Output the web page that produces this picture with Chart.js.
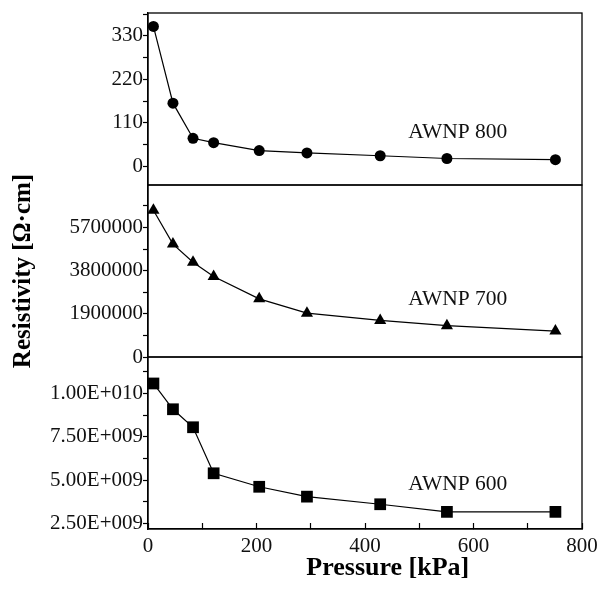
<!DOCTYPE html>
<html>
<head>
<meta charset="utf-8">
<script src="https://cdn.jsdelivr.net/npm/chart.js@4.4.1/dist/chart.umd.min.js"></script>
<style>
  html, body { margin: 0; padding: 0; background: #fff; }
  #wrap { width: 597px; height: 589px; }
</style>
</head>
<body>
<div id="wrap"><canvas id="resistivity"></canvas></div>
<script>
// pressure in kPa, resistivity in ohm*cm, one list per sample
var pressure = [10, 46, 83, 121, 205, 293, 428, 551, 751];
var awnp800 = [354, 160, 71, 60, 40, 34, 27, 20, 17];
var awnp700 = [6460000, 4970000, 4170000, 3540000, 2560000, 1930000, 1610000, 1380000, 1140000];
var awnp600 = [1.058e10, 9.09e9, 8.05e9, 5.39e9, 4.61e9, 4.04e9, 3.6e9, 3.16e9, 3.16e9];
var sampleNames = ['AWNP 800', 'AWNP 700', 'AWNP 600'];

var serif = '"Liberation Serif", "Times New Roman", serif';

function pairs(ys) {
    return pressure.map(function (p, i) { return { x: p, y: ys[i] }; });
}

function sciLabel(v) {
    var e = Math.floor(Math.log10(v) + 1e-9);
    var m = v / Math.pow(10, e);
    return m.toFixed(2) + 'E+' + String(e).padStart(3, '0');
}

// label only every second tick, the others are minor
function everyOther(step, fmt) {
    return function (value) {
        var k = value / step;
        if (Math.abs(k - Math.round(k)) > 1e-6) return '';
        return fmt ? fmt(value) : String(Math.round(value));
    };
}

// stepSize gets rescaled by chart.js for big numbers, so build the ticks here
function yAxis(min, max, step, fmt, extra) {
    var half = step / 2;
    var ax = {
        type: 'linear',
        position: 'left',
        stack: 'panels',
        stackWeight: 1,
        min: min,
        max: max,
        grid: { drawOnChartArea: false, tickLength: 5, tickColor: '#000', tickWidth: 1.2 },
        border: { color: '#000', width: 1.3 },
        ticks: {
            autoSkip: false,
            padding: 0,
            color: '#111',
            font: { family: serif, size: 21 },
            callback: everyOther(step, fmt)
        },
        afterBuildTicks: function (scale) {
            var t = [];
            for (var k = Math.ceil(min / half); k * half <= max; k++) t.push({ value: k * half });
            scale.ticks = t;
        },
        afterFit: function (scale) { scale.width = 148; }
    };
    if (extra) Object.assign(ax, extra);
    return ax;
}

var panelFrame = {
    id: 'panelFrame',
    afterDraw: function (chart) {
        var c = chart.ctx, a = chart.chartArea, xs = chart.scales.x;
        c.save();
        c.strokeStyle = '#000';
        c.lineWidth = 1.3;
        ['y800', 'y700', 'y600'].forEach(function (id) {
            var s = chart.scales[id];
            c.strokeRect(a.left, s.top, a.right - a.left, s.bottom - s.top);
        });
        // sample names, placed in data units
        var spots = [[571, 73, 'y800'], [571, 2267000, 'y700'], [571, 4.42e9, 'y600']];
        c.fillStyle = '#111';
        c.font = '21.5px ' + serif;
        c.textAlign = 'center';
        c.textBaseline = 'alphabetic';
        spots.forEach(function (s, i) {
            c.fillText(sampleNames[i], xs.getPixelForValue(s[0]), chart.scales[s[2]].getPixelForValue(s[1]));
        });
        // x title sits a bit right of the axis centre in the original
        c.fillStyle = '#000';
        c.font = 'bold 26px ' + serif;
        c.textBaseline = 'middle';
        c.fillText('Pressure [kPa]', xs.getPixelForValue(442), 568);
        c.restore();
    }
};

var ctx = document.getElementById('resistivity').getContext('2d');
var resistivityChart = new Chart(ctx, {
    type: 'line',
    data: {
        datasets: [{
            label: sampleNames[0],
            data: pairs(awnp800),
            yAxisID: 'y800',
            pointStyle: 'circle',
            pointRadius: 5.5
        }, {
            label: sampleNames[1],
            data: pairs(awnp700),
            yAxisID: 'y700',
            pointStyle: 'triangle',
            pointRadius: 7
        }, {
            label: sampleNames[2],
            data: pairs(awnp600),
            yAxisID: 'y600',
            pointStyle: 'rect',
            pointRadius: 8.3
        }]
    },
    options: {
        responsive: true,
        maintainAspectRatio: false,
        animation: false,
        layout: { padding: { top: 13, right: 15, left: 0, bottom: 0 } },
        elements: {
            line: { borderColor: '#000', borderWidth: 1.2, tension: 0 },
            point: { backgroundColor: '#000', borderColor: '#000', borderWidth: 0 }
        },
        scales: {
            x: {
                type: 'linear',
                min: 0,
                max: 800,
                grid: { drawOnChartArea: false, tickLength: -6, tickColor: '#000', tickWidth: 1.2 },
                border: { color: '#000', width: 1.3 },
                ticks: {
                    stepSize: 100,
                    padding: 11,
                    color: '#111',
                    font: { family: serif, size: 21 },
                    callback: everyOther(200)
                },
                afterFit: function (scale) {
                    scale.height = 60;
                    scale.paddingLeft = 0;
                    scale.paddingRight = 0;
                }
            },
            // stacked axes are laid out bottom-up in key order
            y600: yAxis(2.17e9, 1.211e10, 2.5e9, sciLabel),
            y700: yAxis(0, 7570000, 1900000, null, {
                title: {
                    display: true,
                    text: 'Resistivity [Ω·cm]',
                    color: '#000',
                    font: { family: serif, size: 25, weight: 'bold' },
                    padding: { top: 9, bottom: 0 }
                }
            }),
            y800: yAxis(-47, 388, 110)
        },
        plugins: {
            legend: { display: false },
            tooltip: { enabled: false }
        }
    },
    plugins: [panelFrame]
});
</script>
</body>
</html>
